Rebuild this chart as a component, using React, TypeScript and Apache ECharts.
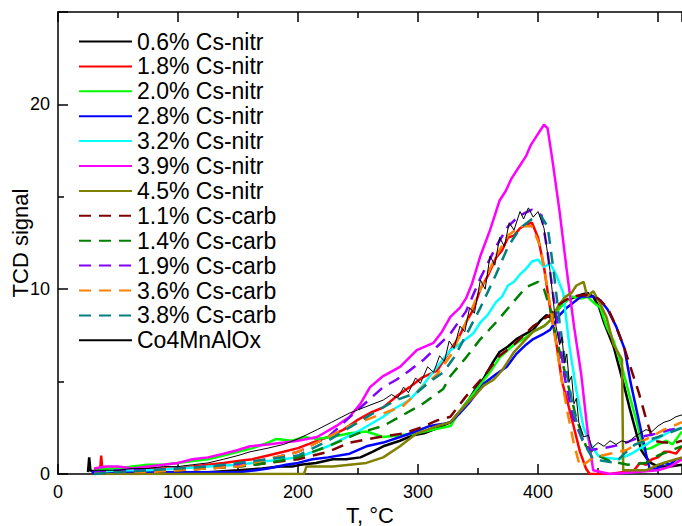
import React, { useEffect, useRef } from "react";
import * as echarts from "echarts";

type P = [number, number][];

const seriesNames = [
  "0.6% Cs-nitr", "1.8% Cs-nitr", "2.0% Cs-nitr", "2.8% Cs-nitr", "3.2% Cs-nitr",
  "3.9% Cs-nitr", "4.5% Cs-nitr", "1.1% Cs-carb", "1.4% Cs-carb", "1.9% Cs-carb",
  "3.6% Cs-carb", "3.8% Cs-carb", "Co4MnAlOx",
];

const nitr06: P = [[25,0.1],[26,0.9],[27,0.2],[30,0.1],[50,0.1],[75,0.1],[100,0.1],[125,0.1],[150,0.2],[170,0.3],[185,0.4],[195,0.4],[202,0.5],[215,0.6],[229,0.8],[240,0.8],[252,0.9],[262,1.2],[271,1.5],[285,1.8],[296,2.1],[305,2.2],[313,2.4],[320,2.6],[327,2.8],[335,3.4],[342,4.0],[348,4.6],[355,5.2],[362,6.0],[368,6.6],[375,6.9],[382,7.3],[390,7.6],[396,7.8],[402,8.3],[407,8.6],[412,8.4],[418,9.0],[423,9.4],[428,9.5],[436,9.7],[441,9.8],[446,9.6],[451,9.0],[455,8.2],[463,6.9],[472,4.7],[477,3.4],[482,2.2],[486,1.3],[490,0.9],[494,0.6],[500,0.4],[510,0.4],[520,0.5]];
const nitr18: P = [[30,0.1],[35,0.1],[36,1.0],[37,0.2],[40,0.3],[45,0.2],[50,0.2],[60,0.3],[75,0.3],[88,0.3],[100,0.3],[112,0.4],[125,0.5],[138,0.6],[150,0.7],[162,0.8],[175,1.0],[188,1.2],[200,1.4],[212,1.7],[225,2.0],[238,2.4],[249,2.9],[260,3.3],[271,3.6],[282,4.2],[293,4.7],[303,5.2],[316,5.6],[322,6.2],[327,6.7],[334,7.4],[340,8.2],[346,8.9],[352,10.0],[358,10.7],[365,11.7],[370,12.1],[375,12.8],[380,12.9],[385,13.3],[390,13.5],[395,13.6],[400,12.8],[405,11.2],[410,9.0],[415,7.2],[420,5.0],[425,3.8],[430,2.5],[435,1.2],[440,0.3],[443,0.0],[460,0.0],[470,0.1],[480,0.2],[485,0.6],[490,0.5],[495,0.8],[500,0.9],[505,1.2],[510,1.2],[515,1.1],[520,1.5]];
const nitr20: P = [[30,0.2],[40,0.3],[50,0.3],[62,0.4],[75,0.5],[88,0.5],[100,0.6],[112,0.7],[125,0.8],[138,1.0],[150,1.2],[162,1.4],[175,1.7],[182,1.9],[195,1.8],[205,2.0],[215,1.9],[228,2.0],[243,2.2],[257,2.3],[271,2.0],[285,2.1],[299,2.2],[313,2.4],[327,2.6],[335,3.4],[342,4.0],[348,4.5],[355,5.1],[362,5.7],[368,6.3],[380,7.0],[390,7.4],[396,7.7],[405,8.0],[410,8.3],[418,9.0],[428,9.6],[436,9.5],[441,9.6],[446,9.3],[452,9.0],[457,8.0],[463,7.2],[470,5.8],[476,4.3],[482,2.9],[488,1.3],[494,1.4],[500,1.6],[507,1.8],[512,1.6],[520,2.3]];
const nitr28: P = [[28,0.1],[50,0.1],[100,0.1],[150,0.1],[165,0.2],[175,0.3],[190,0.5],[200,0.6],[212,0.8],[225,0.9],[243,1.1],[257,1.5],[271,1.7],[285,2.0],[298,2.3],[310,2.6],[320,2.7],[327,2.8],[335,3.3],[342,3.8],[348,4.3],[355,4.9],[365,5.4],[374,5.8],[382,6.5],[390,7.0],[396,7.3],[405,7.6],[410,7.8],[418,8.6],[424,9.0],[428,9.2],[436,9.6],[446,9.6],[452,9.4],[458,8.9],[465,8.0],[472,6.8],[477,5.0],[482,3.5],[486,2.3],[490,1.1],[493,0.3],[500,0.3],[505,0.6],[510,0.5],[515,0.8],[520,0.8]];
const nitr32: P = [[30,0.1],[50,0.2],[75,0.2],[100,0.3],[125,0.4],[150,0.5],[175,0.7],[200,0.9],[225,1.5],[250,2.3],[271,3.1],[282,3.6],[293,4.0],[304,4.8],[316,5.8],[327,6.7],[334,7.0],[340,7.3],[346,7.6],[352,8.2],[358,8.6],[365,9.3],[370,9.6],[375,10.2],[380,10.4],[385,10.8],[390,11.1],[395,11.5],[400,11.6],[405,11.2],[410,11.4],[415,10.8],[421,9.8],[426,7.0],[432,4.5],[438,2.5],[443,1.7],[450,1.0],[454,0.9],[468,0.8],[478,1.1],[488,1.5],[495,1.8],[502,2.0],[510,2.3],[520,2.5]];
const nitr39: P = [[30,0.3],[40,0.4],[50,0.4],[62,0.3],[75,0.4],[88,0.5],[100,0.6],[112,0.8],[125,0.9],[138,1.1],[150,1.3],[160,1.5],[175,1.6],[188,1.7],[200,1.8],[216,2.0],[232,2.6],[243,3.1],[252,3.8],[260,4.7],[271,5.3],[285,5.8],[299,6.7],[313,7.1],[320,7.7],[327,8.5],[335,9.0],[340,9.5],[345,10.3],[352,11.8],[356,12.5],[360,13.2],[364,14.0],[368,14.8],[373,15.3],[378,16.0],[384,16.6],[390,17.2],[394,17.8],[398,18.2],[402,18.6],[405,18.9],[408,18.7],[412,17.0],[418,14.2],[424,11.0],[430,8.0],[436,5.4],[441,2.5],[446,0.2],[460,0.0],[480,0.1],[500,0.2],[510,0.4],[520,0.8]];
const nitr45: P = [[30,0.0],[100,0.0],[150,0.0],[205,0.0],[207,0.4],[229,0.4],[243,0.5],[257,0.6],[271,0.9],[285,1.5],[299,2.2],[308,2.4],[316,2.6],[327,2.8],[335,3.4],[342,3.9],[348,4.3],[355,4.8],[363,5.1],[370,5.6],[380,6.6],[390,7.3],[396,7.7],[405,8.0],[410,8.3],[418,9.2],[423,9.6],[428,9.8],[432,10.2],[438,10.4],[441,9.6],[446,9.9],[452,9.2],[457,8.5],[463,7.0],[470,6.2],[471,0.2],[480,0.2],[490,0.2],[500,0.5],[510,0.7],[520,0.9]];
const carb11: P = [[30,0.0],[50,0.1],[75,0.1],[100,0.2],[125,0.3],[150,0.4],[175,0.6],[200,0.8],[225,1.2],[243,1.7],[268,2.0],[288,2.2],[302,2.5],[316,2.9],[327,3.1],[340,4.2],[355,5.3],[368,6.4],[380,7.0],[396,8.0],[405,8.4],[410,8.6],[418,9.2],[428,9.6],[440,9.7],[450,9.5],[458,9.0],[465,8.0],[472,6.8],[478,5.6],[484,4.4],[490,3.0],[496,1.8],[505,1.7],[515,1.7],[520,1.8]];
const carb14: P = [[30,0.0],[50,0.1],[75,0.1],[100,0.2],[125,0.3],[150,0.4],[175,0.6],[200,0.9],[225,1.5],[250,2.2],[271,2.6],[285,3.1],[304,3.8],[321,4.6],[327,5.3],[340,6.3],[352,7.3],[365,8.2],[378,9.2],[390,10.1],[400,10.4],[405,10.0],[410,9.0],[415,7.4],[424,5.1],[432,3.0],[440,1.5],[450,1.0],[460,0.7],[475,0.5],[490,0.6],[500,1.0],[520,1.5]];
const carb19: P = [[30,0.1],[50,0.2],[75,0.2],[100,0.3],[125,0.4],[150,0.5],[175,0.8],[200,1.2],[225,2.0],[252,3.6],[271,4.7],[282,5.1],[293,5.6],[305,6.2],[316,6.9],[327,7.6],[340,8.8],[352,10.6],[365,12.3],[375,13.4],[385,14.0],[395,14.3],[403,14.0],[408,12.0],[413,9.5],[418,7.3],[422,5.3],[429,3.1],[436,2.0],[443,1.3],[455,1.4],[470,1.6],[485,2.0],[500,2.2],[510,2.4],[520,2.5]];
const carb36: P = [[30,0.0],[50,0.1],[75,0.1],[100,0.2],[125,0.3],[150,0.4],[175,0.8],[200,1.2],[225,2.0],[243,2.6],[268,3.2],[288,3.7],[302,4.6],[316,5.4],[327,6.4],[340,8.2],[352,10.0],[365,11.8],[375,12.9],[385,13.4],[395,13.4],[402,12.3],[408,10.0],[414,7.5],[420,5.0],[425,3.2],[430,1.6],[435,0.4],[440,0.6],[446,0.9],[460,1.1],[474,1.3],[484,1.7],[494,2.0],[505,2.4],[520,2.8]];
const carb38: P = [[30,0.0],[50,0.1],[75,0.2],[100,0.3],[125,0.4],[150,0.6],[175,0.8],[200,1.0],[225,1.8],[250,2.8],[268,3.5],[282,4.0],[299,4.4],[310,5.0],[321,5.5],[330,6.3],[340,7.5],[352,9.0],[365,10.8],[375,12.3],[385,13.3],[395,13.8],[402,14.0],[408,13.4],[413,11.0],[418,8.2],[424,5.5],[430,3.3],[437,1.8],[446,0.8],[455,0.7],[464,0.6],[472,1.1],[481,1.6],[490,1.8],[500,2.0],[520,2.5]];
const co4mn: P = [[25,0.2],[35,0.2],[50,0.2],[62,0.3],[75,0.3],[88,0.4],[100,0.4],[112,0.5],[125,0.6],[138,0.8],[150,1.0],[160,1.2],[175,1.4],[188,1.6],[200,1.9],[216,2.4],[228,2.8],[243,3.3],[255,3.6],[271,4.0],[278,4.3],[283,4.1],[288,4.7],[292,4.4],[298,5.2],[302,4.9],[308,5.8],[313,5.5],[318,6.4],[322,6.1],[326,7.2],[330,6.8],[335,8.0],[339,7.7],[343,9.0],[347,8.7],[352,10.5],[356,10.0],[360,11.8],[364,11.3],[368,12.8],[372,12.3],[376,13.6],[380,13.2],[385,14.2],[388,13.8],[392,14.4],[396,13.9],[400,14.2],[405,13.3],[410,11.0],[413,9.2],[415,8.0],[418,7.0],[420,7.4],[422,6.0],[424,6.5],[426,5.0],[428,5.3],[430,3.8],[432,4.1],[434,2.8],[438,2.0],[442,2.1],[445,1.4],[450,1.7],[455,1.5],[460,1.8],[465,1.6],[470,1.8],[475,1.7],[480,2.0],[485,2.2],[490,2.4],[495,2.3],[500,2.6],[505,2.8],[510,2.9],[515,3.1],[520,3.2]];

const seriesData: P[] = [nitr06, nitr18, nitr20, nitr28, nitr32, nitr39, nitr45, carb11, carb14, carb19, carb36, carb38, co4mn];
const seriesColors = ["#000000", "#ff0000", "#00ff00", "#0000ff", "#00ffff", "#ff00ff", "#808000", "#800000", "#008000", "#8000ff", "#ff8000", "#008080", "#000000"];
const seriesDashed = [false, false, false, false, false, false, false, true, true, true, true, true, false];

const xTicks = { min: 0, max: 520, interval: 100 };
const yTicks = { min: 0, max: 25, interval: 10 };

const FONT = "'Liberation Sans', Arial, sans-serif";

export default function App() {
  const ref = useRef<HTMLDivElement>(null);
  useEffect(() => {
    if (!ref.current) return;
    const chart = echarts.init(ref.current, undefined, { renderer: "svg" });
    const axisLine = { show: true, lineStyle: { color: "#000", width: 1.5 } };
    const tick = { inside: true, length: 10, lineStyle: { color: "#000", width: 1.5 } };
    const minor = { show: true, splitNumber: 2, length: 6, lineStyle: { color: "#000", width: 1.5 } };
    chart.setOption({
      animation: false,
      backgroundColor: "#ffffff",
      grid: { left: 58, right: 0, top: 12, bottom: 52, containLabel: false, outerBoundsMode: "none" },
      legend: {
        orient: "vertical",
        left: 78,
        top: 30,
        padding: 0,
        itemWidth: 53,
        itemHeight: 12,
        itemGap: 1.9,
        itemTextGap: 6,
        itemStyle: { opacity: 0 },
        textStyle: { fontFamily: FONT, fontSize: 23, color: "#000", lineHeight: 22 },
        data: seriesNames,
      },
      xAxis: [
        {
          type: "value", position: "bottom", ...xTicks,
          name: "T, °C", nameLocation: "middle", nameGap: 30, nameMoveOverlap: false,
          nameTextStyle: { fontFamily: FONT, fontSize: 22, color: "#000" },
          axisLine, axisTick: tick, minorTick: minor,
          axisLabel: { fontFamily: FONT, fontSize: 18, color: "#000", margin: 9, showMaxLabel: false },
          splitLine: { show: false },
        },
        {
          type: "value", position: "top", ...xTicks,
          axisLine, axisTick: tick, minorTick: minor,
          axisLabel: { show: false },
          splitLine: { show: false },
        },
      ],
      yAxis: {
        type: "value", ...yTicks,
        name: "TCD signal", nameLocation: "middle", nameGap: 27, nameRotate: 90, nameMoveOverlap: false,
        nameTextStyle: { fontFamily: FONT, fontSize: 22, color: "#000" },
        axisLine, axisTick: tick, minorTick: minor,
        axisLabel: { fontFamily: FONT, fontSize: 18, color: "#000", margin: 8, showMaxLabel: false },
        splitLine: { show: false },
      },
      series: seriesNames.map((name, i) => ({
        name,
        type: "line",
        xAxisIndex: 0,
        data: seriesData[i],
        symbol: "none",
        showSymbol: false,
        clip: true,
        lineStyle: {
          color: seriesColors[i],
          width: i === 12 ? 1 : 2.5,
          type: seriesDashed[i] ? [12, 8] : "solid",
        },
        itemStyle: { color: seriesColors[i] },
        z: i === 12 ? 5 : 2,
      })),
    });
    return () => chart.dispose();
  }, []);
  return (
    <div
      ref={ref}
      style={{ position: "fixed", left: 0, top: 0, width: 682, height: 526, background: "#fff" }}
    />
  );
}
